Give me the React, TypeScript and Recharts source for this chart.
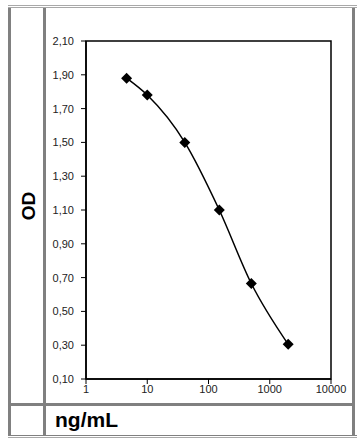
import React from 'react';
import { LineChart, Line, XAxis, YAxis, ReferenceArea } from 'recharts';

// Standard curve readings (concentration in ng/mL vs optical density)
const concentrations = [4.6, 10, 41, 150, 500, 2000];
const odValues = [1.88, 1.78, 1.5, 1.1, 0.665, 0.305];
const xTicks = [1, 10, 100, 1000, 10000];
const yTicks = [0.1, 0.3, 0.5, 0.7, 0.9, 1.1, 1.3, 1.5, 1.7, 1.9, 2.1];

const data = concentrations.map((c, i) => ({ conc: c, od: odValues[i] }));

const FONT = '"Liberation Sans", Arial, sans-serif';
const FRAME = '#808080';
const THIN = '#a8a8a8';

// Black diamond marker
const Diamond = (props: any) => {
  const { cx, cy } = props;
  if (cx == null || cy == null) return null;
  const r = 5.5;
  return (
    <polygon
      points={`${cx},${cy - r} ${cx + r},${cy} ${cx},${cy + r} ${cx - r},${cy}`}
      fill="#000"
    />
  );
};

const box = (left: number, top: number, width: number, height: number, color: string) => (
  <div style={{ position: 'absolute', left, top, width, height, background: color }} />
);

export default function App() {
  return (
    <div style={{ position: 'absolute', left: 0, top: 0, width: 364, height: 445, background: '#fff', fontFamily: FONT }}>
      <div style={{ position: 'absolute', left: 0, top: 0 }}>
        <LineChart
          width={364}
          height={445}
          data={data}
          margin={{ top: 41, right: 33, left: 0, bottom: 36 }}
        >
          <XAxis
            dataKey="conc"
            type="number"
            scale="log"
            domain={[1, 10000]}
            ticks={xTicks}
            allowDataOverflow
            height={30}
            tickSize={5}
            tickMargin={1}
            axisLine={{ stroke: '#000', strokeWidth: 1.5 }}
            tickLine={{ stroke: '#000' }}
            tick={{ fill: '#222', fontSize: 11, fontFamily: FONT }}
          />
          <YAxis
            dataKey="od"
            type="number"
            domain={[0.1, 2.1]}
            ticks={yTicks}
            allowDataOverflow
            width={86}
            tickSize={5}
            tickMargin={7}
            tickFormatter={(v: number) => v.toFixed(2).replace('.', ',')}
            axisLine={{ stroke: '#000', strokeWidth: 1.5 }}
            tickLine={{ stroke: '#000' }}
            tick={{ fill: '#222', fontSize: 11, fontFamily: FONT }}
          />
          <ReferenceArea
            x1={1}
            x2={10000}
            y1={0.1}
            y2={2.1}
            fill="none"
            stroke="#000"
            strokeWidth={1.5}
            ifOverflow="visible"
          />
          <Line
            dataKey="od"
            type="monotone"
            stroke="#000"
            strokeWidth={1.5}
            dot={<Diamond />}
            activeDot={false}
            isAnimationActive={false}
          />
        </LineChart>
      </div>

      {/* table frame */}
      {box(8, 5, 349, 1, THIN)}
      {box(8, 7, 349, 1, THIN)}
      {box(8, 8, 3, 427, FRAME)}
      {box(43, 8, 3, 427, FRAME)}
      {box(352, 8, 3, 427, FRAME)}
      {box(8, 403, 347, 3, FRAME)}
      {box(8, 435, 349, 1, FRAME)}
      {box(8, 437, 349, 1, THIN)}

      <div
        style={{
          position: 'absolute',
          left: 28,
          top: 206,
          transform: 'translate(-50%, -50%) rotate(-90deg)',
          fontSize: 19,
          fontWeight: 'bold',
          color: '#000',
          whiteSpace: 'nowrap',
          lineHeight: 1,
        }}
      >
        OD
      </div>
      <div
        style={{
          position: 'absolute',
          left: 55,
          top: 408,
          fontSize: 21,
          fontWeight: 'bold',
          color: '#000',
          lineHeight: '24px',
          whiteSpace: 'nowrap',
        }}
      >
        ng/mL
      </div>
    </div>
  );
}
